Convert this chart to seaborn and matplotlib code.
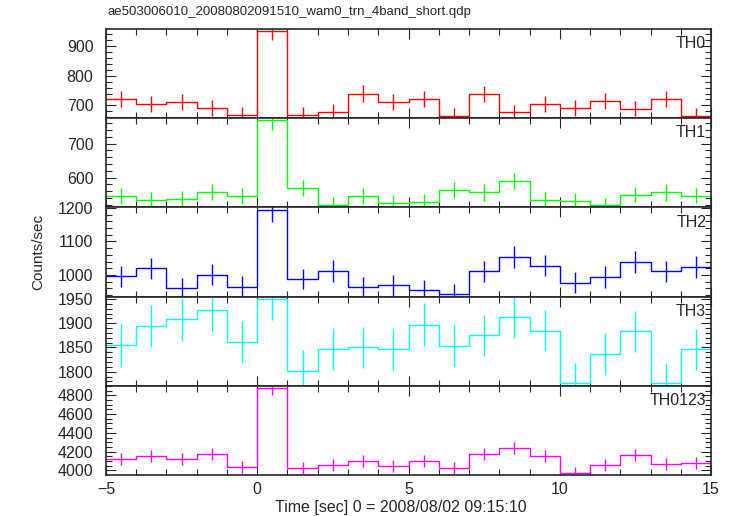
import numpy as np
import pandas as pd
import matplotlib
matplotlib.use('Agg')
import matplotlib.pyplot as plt
from matplotlib.ticker import MultipleLocator
import seaborn as sns

# light curve bins (1 s), centres
time_bins = [-4.5, -3.5, -2.5, -1.5, -0.5, 0.5, 1.5, 2.5, 3.5, 4.5,
             5.5, 6.5, 7.5, 8.5, 9.5, 10.5, 11.5, 12.5, 13.5, 14.5]

th0 = [722, 706, 712, 692, 669, 950, 668, 679, 740, 712,
       722, 665, 737, 677, 706, 692, 716, 689, 722, 664]
th0_err = [27, 27, 27, 26, 26, 31, 26, 26, 27, 27, 27, 26, 27, 26, 27, 26, 27, 26, 27, 26]

th1 = [545, 533, 537, 557, 545, 769, 569, 520, 545, 525,
       528, 563, 556, 589, 533, 530, 518, 550, 556, 547]
th1_err = [23, 23, 23, 24, 23, 28, 24, 23, 23, 23, 23, 24, 24, 24, 23, 23, 23, 23, 24, 23]

th2 = [996, 1020, 960, 1001, 965, 1193, 988, 1012, 963, 969,
       955, 942, 1011, 1053, 1028, 977, 994, 1039, 1011, 1023]
th2_err = [32, 32, 31, 32, 31, 35, 31, 32, 31, 31, 31, 31, 32, 32, 32, 31, 32, 32, 32, 32]

th3 = [1855, 1894, 1908, 1928, 1862, 1951, 1802, 1847, 1850, 1846,
       1897, 1853, 1875, 1913, 1885, 1777, 1837, 1883, 1777, 1846]
th3_err = [43, 44, 44, 44, 43, 44, 42, 43, 43, 43, 44, 43, 43, 44, 43, 42, 43, 43, 42, 43]

th0123 = [4119, 4154, 4119, 4178, 4038, 4874, 4028, 4056, 4101, 4049,
          4105, 4024, 4175, 4238, 4150, 3976, 4059, 4161, 4063, 4080]
th0123_err = [64, 64, 64, 65, 64, 70, 63, 64, 64, 64, 64, 63, 65, 65, 64, 63, 64, 65, 64, 64]

bands = ['TH0', 'TH1', 'TH2', 'TH3', 'TH0123']
colors = ['#ff0000', '#00ff00', '#0000ff', '#00ffff', '#ff00ff']
rates = [th0, th1, th2, th3, th0123]
errors = [th0_err, th1_err, th2_err, th3_err, th0123_err]
ylims = [(657, 957), (512, 775), (935, 1202), (1771, 1955), (3951, 4901)]
ymajor = [100, 100, 100, 50, 200]
yminor = [20, 20, 20, 10, 50]

sns.set_style('ticks')
plt.rcParams['font.family'] = ['Liberation Sans', 'DejaVu Sans']
plt.rcParams['axes.linewidth'] = 1.2

fig, axes = plt.subplots(5, 1, sharex=True, figsize=(7.33, 5.16), dpi=100)
fig.subplots_adjust(left=0.1446, right=0.970, top=0.9438, bottom=0.0795, hspace=0)

for ax, band, col, y, e, yl, ma, mi in zip(axes, bands, colors, rates, errors, ylims, ymajor, yminor):
    df = pd.DataFrame({'time': time_bins, 'rate': y, 'err': e})
    sns.histplot(data=df, x='time', weights='rate', binwidth=1, binrange=(-5, 15),
                 element='step', fill=False, color=col, linewidth=1.0, ax=ax)
    ax.errorbar(df['time'], df['rate'], yerr=df['err'], fmt='none',
                ecolor=col, elinewidth=1.0, capsize=0)
    ax.set_ylim(*yl)
    ax.set_xlim(-5, 15)
    ax.set_ylabel('')
    ax.set_xlabel('')
    ax.yaxis.set_major_locator(MultipleLocator(ma))
    ax.yaxis.set_minor_locator(MultipleLocator(mi))
    ax.xaxis.set_major_locator(MultipleLocator(5))
    ax.xaxis.set_minor_locator(MultipleLocator(1))
    ax.tick_params(which='both', direction='in', top=True, right=True, labelsize=11.5)
    ax.tick_params(which='major', length=7, width=0.8)
    ax.tick_params(which='minor', length=4, width=0.8)
    ax.tick_params(axis='y', pad=9)
    ax.tick_params(axis='x', pad=5)
    ax.text(0.992, 0.92, band, transform=ax.transAxes, ha='right', va='top', fontsize=11.5)

fig.text(0.547, 0.017, 'Time [sec] 0 = 2008/08/02 09:15:10', ha='center', va='center', fontsize=11.5)
fig.text(0.052, 0.512, 'Counts/sec', rotation=90, ha='center', va='center', fontsize=11)
fig.text(0.146, 0.976, 'ae503006010_20080802091510_wam0_trn_4band_short.qdp',
         ha='left', va='center', fontsize=9.5)

plt.savefig('out.png', dpi=100)
